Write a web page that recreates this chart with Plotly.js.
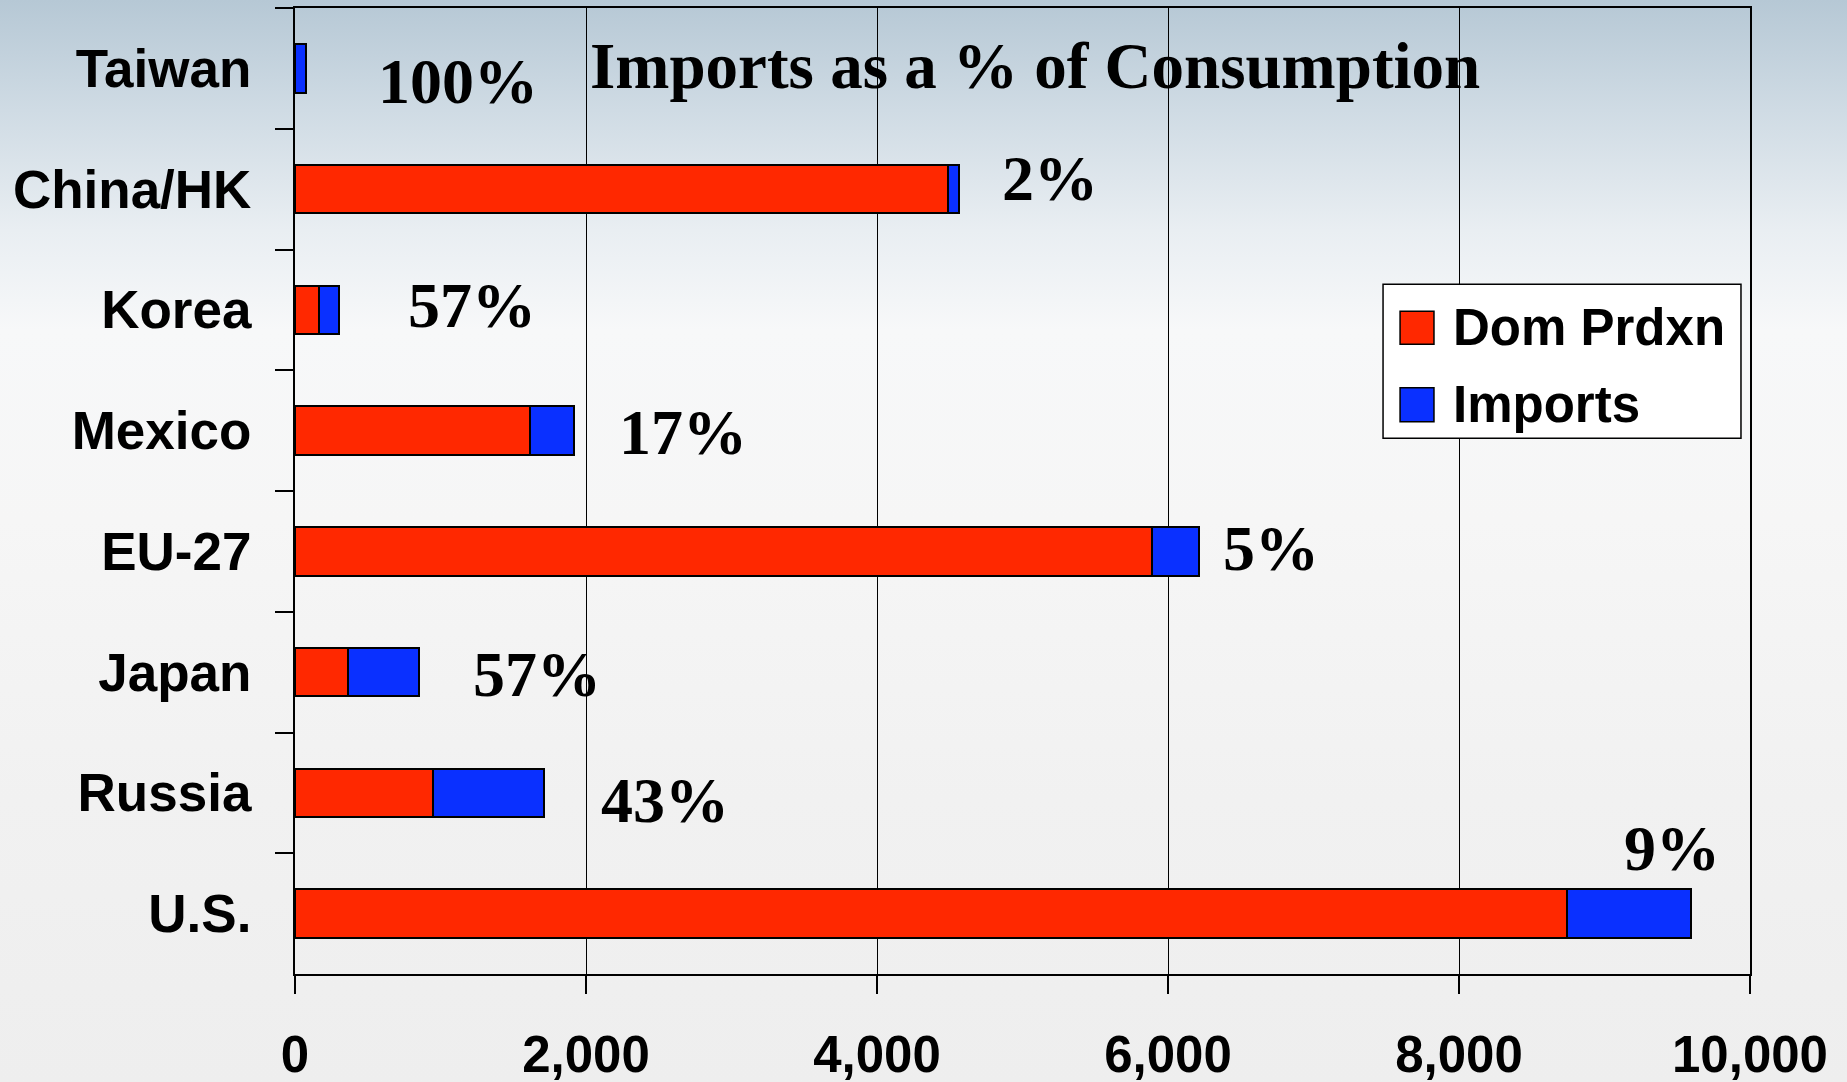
<!DOCTYPE html>
<html>
<head>
<meta charset="utf-8">
<script src="https://cdn.plot.ly/plotly-3.0.1.min.js"></script>
<style>
  html, body { margin: 0; padding: 0; }
  body {
    width: 1847px; height: 1082px; overflow: hidden;
    background: linear-gradient(to bottom, #b6c8d5 0px, #cfdbe4 110px, #e9eef2 230px, #f7f8f9 330px, #f6f6f6 520px, #f1f1f1 800px, #eeeeee 1082px);
  }
  #chart { width: 1847px; height: 1082px; }
</style>
</head>
<body>
<div id="chart"></div>
<script>
// DATA (top to bottom, as on the slide)
var countries   = ['Taiwan', 'China/HK', 'Korea', 'Mexico', 'EU-27', 'Japan', 'Russia', 'U.S.'];
var domPrdxn    = [0, 4490, 165, 1615, 5890, 365, 950, 8745];
var imports     = [75, 75, 135, 305, 320, 485, 760, 850];
var importShare = ['100%', '2%', '57%', '17%', '5%', '57%', '43%', '9%'];
var xTicks      = [0, 2000, 4000, 6000, 8000, 10000];

// where each share label sits (x in axis units, shift in px)
var shareX     = [557, 4845, 763, 2213, 6364, 1210, 2089, 9118];
var shareShift = [-13, 11, 4, -2, 3, -2, -8, 65];

CHART = document.getElementById('chart');

var sans  = 'Liberation Sans, Arial, sans-serif';
var serif = 'Liberation Serif, Times New Roman, serif';

var trace1 = {
  y: countries,
  x: domPrdxn,
  name: 'Dom Prdxn',
  type: 'bar',
  orientation: 'h',
  marker: {color: '#ff2800', line: {color: '#000000', width: 2}},
  hoverinfo: 'x+y+name'
};

var trace2 = {
  y: countries,
  x: imports,
  name: 'Imports',
  type: 'bar',
  orientation: 'h',
  marker: {color: '#0a30ff', line: {color: '#000000', width: 2}},
  hoverinfo: 'x+y+name'
};

var data = [trace1, trace2];

// percent labels
var annotations = importShare.map(function(t, i) {
  return {
    x: shareX[i], y: countries[i], xref: 'x', yref: 'y',
    text: t, showarrow: false, xanchor: 'left', yanchor: 'middle',
    yshift: shareShift[i],
    font: {family: serif, size: 64, color: '#000000', weight: 'bold'}
  };
});

// chart heading inside the plot
annotations.push({
  x: 0.5086, y: 0.9395, xref: 'paper', yref: 'paper',
  text: 'Imports as a % of Consumption', showarrow: false,
  xanchor: 'center', yanchor: 'middle',
  font: {family: serif, size: 65, color: '#000000', weight: 'bold'}
});

// legend entries (drawn by hand to get the big swatches)
annotations.push({
  x: 0.7945, y: 0.6689, xref: 'paper', yref: 'paper', text: 'Dom Prdxn',
  showarrow: false, xanchor: 'left', yanchor: 'middle',
  font: {family: sans, size: 51, color: '#000000', weight: 'bold'}
});
annotations.push({
  x: 0.7945, y: 0.5892, xref: 'paper', yref: 'paper', text: 'Imports',
  showarrow: false, xanchor: 'left', yanchor: 'middle',
  font: {family: sans, size: 51, color: '#000000', weight: 'bold'}
});

var shapes = [
  {type: 'rect', xref: 'paper', yref: 'paper', x0: 0.7478, x1: 0.9938, y0: 0.5546, y1: 0.7139,
   fillcolor: '#ffffff', line: {color: '#000000', width: 1.5}, layer: 'above'},
  {type: 'rect', xref: 'paper', yref: 'paper', x0: 0.7595, x1: 0.7828, y0: 0.6518, y1: 0.6860,
   fillcolor: trace1.marker.color, line: {color: '#000000', width: 1.5}, layer: 'above'},
  {type: 'rect', xref: 'paper', yref: 'paper', x0: 0.7595, x1: 0.7828, y0: 0.5717, y1: 0.6068,
   fillcolor: trace2.marker.color, line: {color: '#000000', width: 1.5}, layer: 'above'}
];

var layout = {
  barmode: 'stack',
  bargap: 0.6,
  showlegend: false,
  width: 1847,
  height: 1082,
  margin: {l: 295, r: 97, t: 8, b: 108, pad: 0},
  plot_bgcolor: 'rgba(0,0,0,0)',
  paper_bgcolor: 'rgba(0,0,0,0)',
  font: {family: sans, color: '#000000'},
  xaxis: {
    range: [0, 10000],
    tickvals: xTicks,
    tickformat: ',d',
    showgrid: true, gridcolor: '#000000', gridwidth: 1.3,
    zeroline: false,
    showline: true, linecolor: '#000000', linewidth: 2, mirror: true,
    ticks: 'outside', ticklen: 18, tickwidth: 1.5, tickcolor: '#000000',
    ticklabelstandoff: 17,
    tickfont: {family: sans, size: 51, color: '#000000', weight: 'bold'}
  },
  yaxis: {
    type: 'category',
    range: [countries.length - 0.5, -0.5],
    tickson: 'boundaries',
    showgrid: false,
    zeroline: false,
    showline: true, linecolor: '#000000', linewidth: 2, mirror: true,
    ticks: 'outside', ticklen: 18, tickwidth: 2, tickcolor: '#000000',
    ticklabelstandoff: 31,
    tickfont: {family: sans, size: 53, color: '#000000', weight: 'bold'}
  },
  annotations: annotations,
  shapes: shapes
};

var config = {displayModeBar: false};

Plotly.newPlot(CHART, data, layout, config);
</script>
</body>
</html>
